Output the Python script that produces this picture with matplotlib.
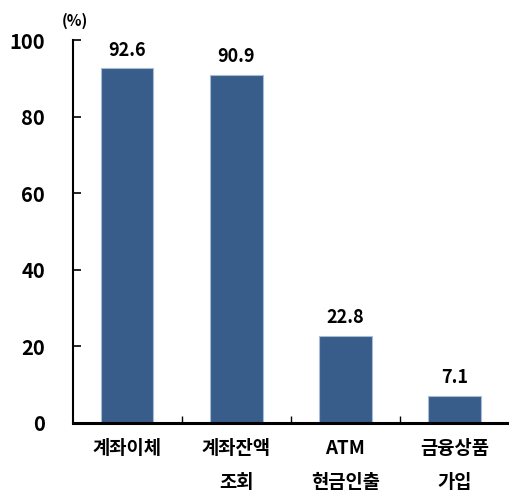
import matplotlib
matplotlib.use("Agg")
import matplotlib.pyplot as plt

plt.rcParams['font.family'] = ['Noto Sans CJK KR', 'DejaVu Sans']

categories = ["계좌이체", "계좌잔액\n조회", "ATM\n현금인출", "금융상품\n가입"]
values = [92.6, 90.9, 22.8, 7.1]
yticks = [0, 20, 40, 60, 80, 100]

W = "bold"
fig = plt.figure(figsize=(5.09, 4.91), dpi=100)
ax = fig.add_axes([0.143, 0.1385, 0.857, 0.78])

x = list(range(len(categories)))
bars = ax.bar(x, values, width=0.48, color="#385D8A", edgecolor="#A9BCD6", linewidth=0.8)
for xi, v in zip(x, values):
    ax.text(xi, v + 2.3, f"{v}", ha="center", va="bottom", fontsize=13, fontweight=W)

ax.set_xlim(-0.5, 3.5)
ax.set_ylim(0, 100)
ax.set_yticks(yticks)
ax.set_yticklabels([str(t) for t in yticks], fontsize=14.5, fontweight=W)
ax.tick_params(axis='y', direction='in', length=6, width=1.2, pad=20)
ax.set_xticks([0.5, 1.5, 2.5], minor=False)
ax.set_xticklabels([])
ax.tick_params(axis='x', direction='in', length=5, width=1.0)
for xi, c in zip(x, categories):
    ax.text(xi, -4.3, c, ha="center", va="top", fontsize=13.5, fontweight=W,
            linespacing=1.95, transform=ax.transData)

for s in ["top", "right"]:
    ax.spines[s].set_visible(False)
ax.spines["left"].set_linewidth(1.5)
ax.spines["bottom"].set_linewidth(2.2)

fig.text(0.148, 0.958, "(%)", ha="center", va="center", fontsize=11, fontweight=W)

fig.savefig("out.png", dpi=100)
